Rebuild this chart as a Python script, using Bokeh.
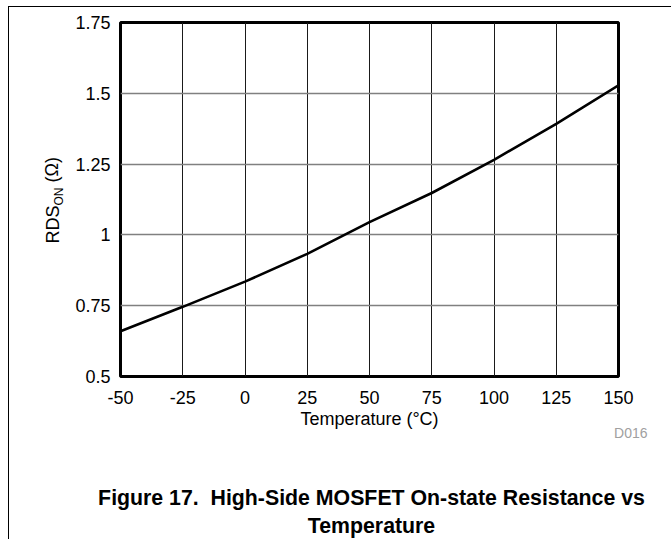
from bokeh.plotting import figure
from bokeh.models import (Label, FixedTicker, Range1d, CustomJSTickFormatter,
                          InlineStyleSheet)
from bokeh.embed import file_html
from bokeh.resources import INLINE
import math

# Data
temperature_c = [-50, -25, 0, 25, 50, 75, 100, 125, 150]
rds_on_ohm = [0.660, 0.746, 0.835, 0.933, 1.045, 1.148, 1.265, 1.392, 1.528]
x_ticks = [-50, -25, 0, 25, 50, 75, 100, 125, 150]
y_ticks = [0.5, 0.75, 1.0, 1.25, 1.5, 1.75]
y_tick_labels = ["0.5", "0.75", "1", "1.25", "1.5", "1.75"]

FONT = "Liberation Sans"
W, H = 671, 539
FL, FR, FT, FB = 120, 618, 22, 376  # frame edges in canvas px

p = figure(width=W, height=H, output_backend="svg", toolbar_location=None,
           x_range=Range1d(-50, 150), y_range=Range1d(0.5, 1.75),
           min_border_left=FL, min_border_right=W - FR,
           min_border_top=FT, min_border_bottom=H - FB)
p.background_fill_color = "white"
p.border_fill_color = "white"
p.outline_line_color = "black"
p.outline_line_width = 3

p.line(temperature_c, rds_on_ohm, line_color="black", line_width=2.6)

# axes
p.xaxis.ticker = FixedTicker(ticks=x_ticks)
p.yaxis.ticker = FixedTicker(ticks=y_ticks)
p.xaxis.formatter = CustomJSTickFormatter(code="return tick.toString();")
p.yaxis.formatter = CustomJSTickFormatter(code="""
const labs = %s; const vals = %s;
for (let i = 0; i < vals.length; i++) { if (Math.abs(vals[i]-tick) < 1e-9) return labs[i]; }
return tick.toString();
""" % (str(y_tick_labels), str(y_ticks)))
for ax in (p.xaxis[0], p.yaxis[0]):
    ax.axis_line_color = None
    ax.major_tick_line_color = None
    ax.minor_tick_line_color = None
    ax.major_tick_out = 0
    ax.major_tick_in = 0
    ax.minor_tick_out = 0
    ax.major_label_text_font = FONT
    ax.major_label_text_font_size = "18px"
    ax.major_label_text_color = "black"
p.xaxis.major_label_standoff = 14
p.yaxis.major_label_standoff = 10
p.xaxis.axis_label = "Temperature (\u00b0C)"
p.xaxis.axis_label_text_font = FONT
p.xaxis.axis_label_text_font_size = "18px"
p.xaxis.axis_label_text_font_style = "normal"
p.xaxis.axis_label_text_color = "black"
p.xaxis.axis_label_standoff = 2

p.xgrid.grid_line_color = "#1a1a1a"
p.xgrid.grid_line_width = 1
p.ygrid.grid_line_color = "#808080"
p.ygrid.grid_line_width = 1.5

# y axis label with subscript (rotated), in side panels so it is not clipped
p.add_layout(Label(x=0, y=133, x_units="screen", y_units="screen",
                   text="RDS", angle=math.pi / 2, text_font=FONT, text_color="black",
                   text_font_size="18px", text_baseline="alphabetic", text_align="left"), "left")
p.add_layout(Label(x=20, y=171, x_units="screen", y_units="screen",
                   text="ON", angle=math.pi / 2, text_font=FONT, text_color="black",
                   text_font_size="12px", text_baseline="alphabetic", text_align="left"), "left")
p.add_layout(Label(x=33, y=189, x_units="screen", y_units="screen",
                   text="\u00a0(\u03a9)", angle=math.pi / 2, text_font=FONT, text_color="black",
                   text_font_size="18px", text_baseline="alphabetic", text_align="left"), "left")

# figure id (right side panel, positioned relative to it)
p.add_layout(Label(x=29, y=-56, x_units="screen", y_units="screen",
                   text="D016", text_font=FONT, text_font_size="14px",
                   text_color="#a0a0a0", text_align="right", text_baseline="alphabetic"), "right")

# caption (below panels, positioned relative to them)
p.add_layout(Label(x=251, y=-42, x_units="screen", y_units="screen",
                   text="Figure 17.\u00a0 High-Side MOSFET On-state Resistance vs",
                   text_font=FONT, text_font_size="21.3px", text_font_style="bold",
                   text_color="black", text_align="center", text_baseline="alphabetic"), "below")
p.add_layout(Label(x=251, y=-46, x_units="screen", y_units="screen",
                   text="Temperature",
                   text_font=FONT, text_font_size="21.3px", text_font_style="bold",
                   text_color="black", text_align="center", text_baseline="alphabetic"), "below")

# page frame lines (top and left)
p.stylesheets = [InlineStyleSheet(css="""
:host::after { content: ""; position: absolute; left: 8px; top: 6px; right: 0px; bottom: 0px;
  border-top: 1.5px solid black; border-left: 1.5px solid black; pointer-events: none; z-index: 10; }
""")]

open("out.html", "w").write(file_html(p, INLINE))
